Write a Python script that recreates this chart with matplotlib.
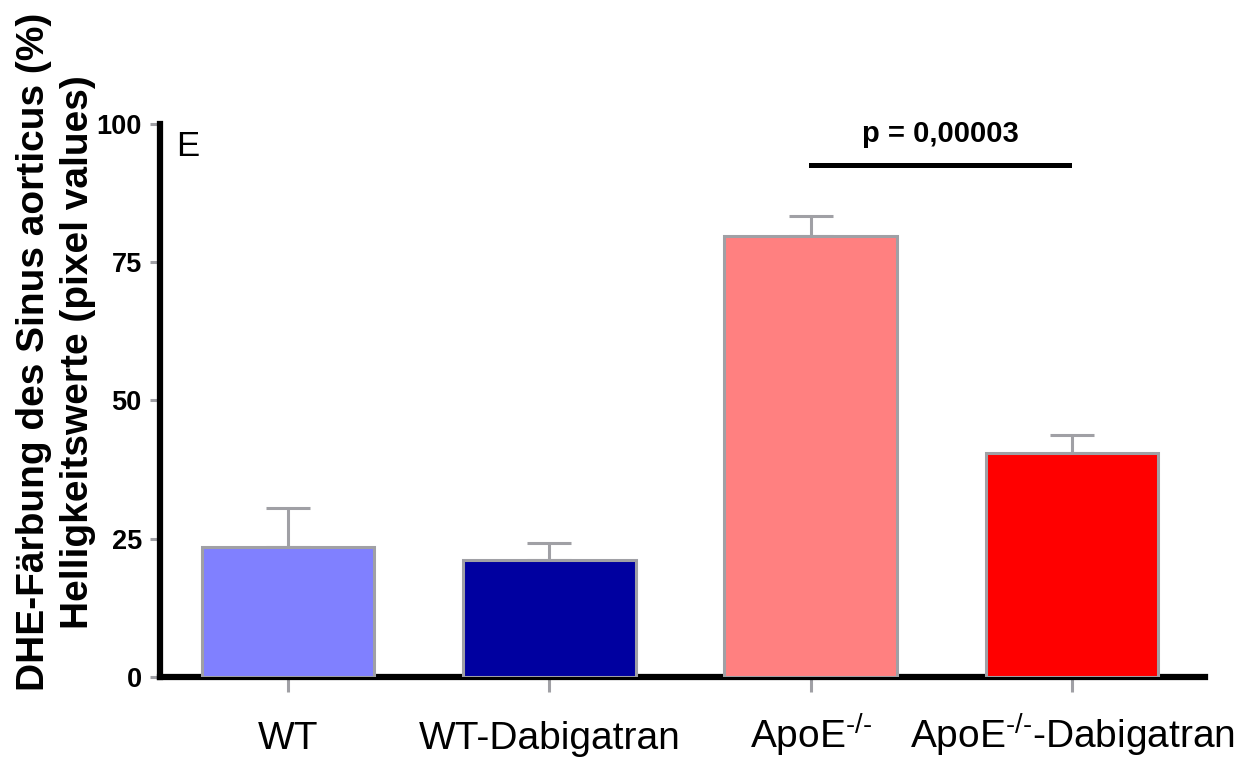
import matplotlib.pyplot as plt
import numpy as np

plt.rcParams['font.family'] = ['Liberation Sans', 'DejaVu Sans']
plt.rcParams['mathtext.fontset'] = 'custom'
plt.rcParams['mathtext.rm'] = 'Liberation Sans'
plt.rcParams['mathtext.it'] = 'Liberation Sans'
plt.rcParams['mathtext.bf'] = 'Liberation Sans:bold'

groups = ["WT", "WT-Dabigatran", r"ApoE$^{\text{-/-}}$", r"ApoE$^{\text{-/-}}$-Dabigatran"]
means = [23.5, 21.2, 79.7, 40.5]
sem = [7.1, 3.0, 3.7, 3.3]
colors = ["#8080ff", "#0000a0", "#ff8080", "#ff0000"]
y_ticks = [0, 25, 50, 75, 100]
p_label = "p = 0,00003"
p_height = 92.5

grey = "#a0a0a5"

fig = plt.figure(figsize=(12.49, 7.63), dpi=100)
ax = fig.add_axes([0.128, 0.113, 0.837, 0.7245])

x = np.arange(len(groups))
ax.bar(x, means, width=0.66, color=colors, edgecolor=grey, linewidth=2.2, zorder=3)
ax.errorbar(x, means, yerr=[np.zeros(len(sem)), sem], fmt="none", ecolor=grey,
            elinewidth=2.2, capsize=16, capthick=2.2, zorder=2)

ax.set_xlim(-0.49, 3.51)
ax.set_ylim(0, 100)
ax.set_yticks(y_ticks)
ax.set_xticks(x)
ax.set_xticklabels(groups, fontsize=28)
for lab in ax.get_xticklabels():
    lab.set_verticalalignment("baseline")
for lab in ax.get_yticklabels():
    lab.set_fontweight("bold")
    lab.set_fontsize(19.5)

for s in ["top", "right"]:
    ax.spines[s].set_visible(False)
for s in ["left", "bottom"]:
    ax.spines[s].set_linewidth(4.5)
    ax.spines[s].set_color("black")

ax.tick_params(axis="y", length=7, width=2.2, color=grey, pad=6)
ax.tick_params(axis="x", length=11, width=2.2, color=grey, pad=41)

ax.set_ylabel("DHE-Färbung des Sinus aorticus (%)\nHelligkeitswerte (pixel values)",
              fontsize=28, fontweight="bold", linespacing=1.3)
ax.yaxis.set_label_coords(-0.061, 0.588)

ax.text(0.016, 0.99, "E", transform=ax.transAxes, fontsize=25, va="top", ha="left")

ax.plot([2, 2.99], [p_height, p_height], color="black", linewidth=3.6, clip_on=False)
ax.text(2.495, 98.2, p_label, ha="center", va="center", fontsize=21, fontweight="bold")

fig.savefig("out.png", dpi=100)
